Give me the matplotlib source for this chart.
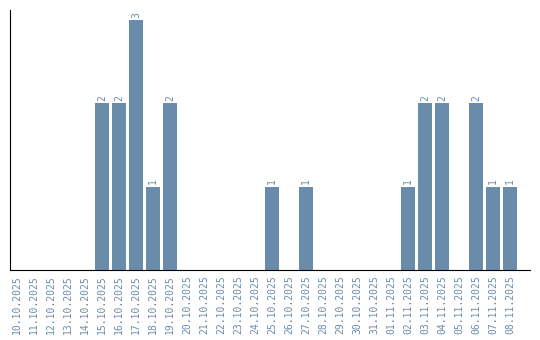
import matplotlib.pyplot as plt

# --- DADOS ---
datas = ['10.10.2025', '11.10.2025', '12.10.2025', '13.10.2025', '14.10.2025',
         '15.10.2025', '16.10.2025', '17.10.2025', '18.10.2025', '19.10.2025',
         '20.10.2025', '21.10.2025', '22.10.2025', '23.10.2025', '24.10.2025',
         '25.10.2025', '26.10.2025', '27.10.2025', '28.10.2025', '29.10.2025',
         '30.10.2025', '31.10.2025', '01.11.2025', '02.11.2025', '03.11.2025',
         '04.11.2025', '05.11.2025', '06.11.2025', '07.11.2025', '08.11.2025']
valores = [0, 0, 0, 0, 0, 2, 2, 3, 1, 2,
           0, 0, 0, 0, 0, 1, 0, 1, 0, 0,
           0, 0, 0, 1, 2, 2, 0, 2, 1, 1]

COR = '#6a8cab'
FONTE = 'DejaVu Sans Mono'

fig = plt.figure(figsize=(5.4, 3.4), dpi=100)
ax = fig.add_axes([10 / 540, 70 / 340, 520 / 540, 260 / 340])

x = list(range(len(datas)))
ax.bar(x, valores, width=0.82, color=COR)

for i, v in zip(x, valores):
    if v > 0:
        ax.text(i, v + 0.03, str(v), rotation=90, ha='center', va='bottom',
                fontsize=7, color=COR, family=FONTE)

ax.set_xlim(-0.41, len(datas) - 1 + 1.18)
ax.set_ylim(0, 3.12)
ax.set_xticks(x)
ax.set_xticklabels(datas, rotation=90, fontsize=7, color=COR, family=FONTE)
ax.tick_params(axis='x', length=0, pad=4)
ax.set_yticks([])
ax.spines['top'].set_visible(False)
ax.spines['right'].set_visible(False)
ax.spines['left'].set_color('black')
ax.spines['bottom'].set_color('black')

fig.savefig('out.png')
